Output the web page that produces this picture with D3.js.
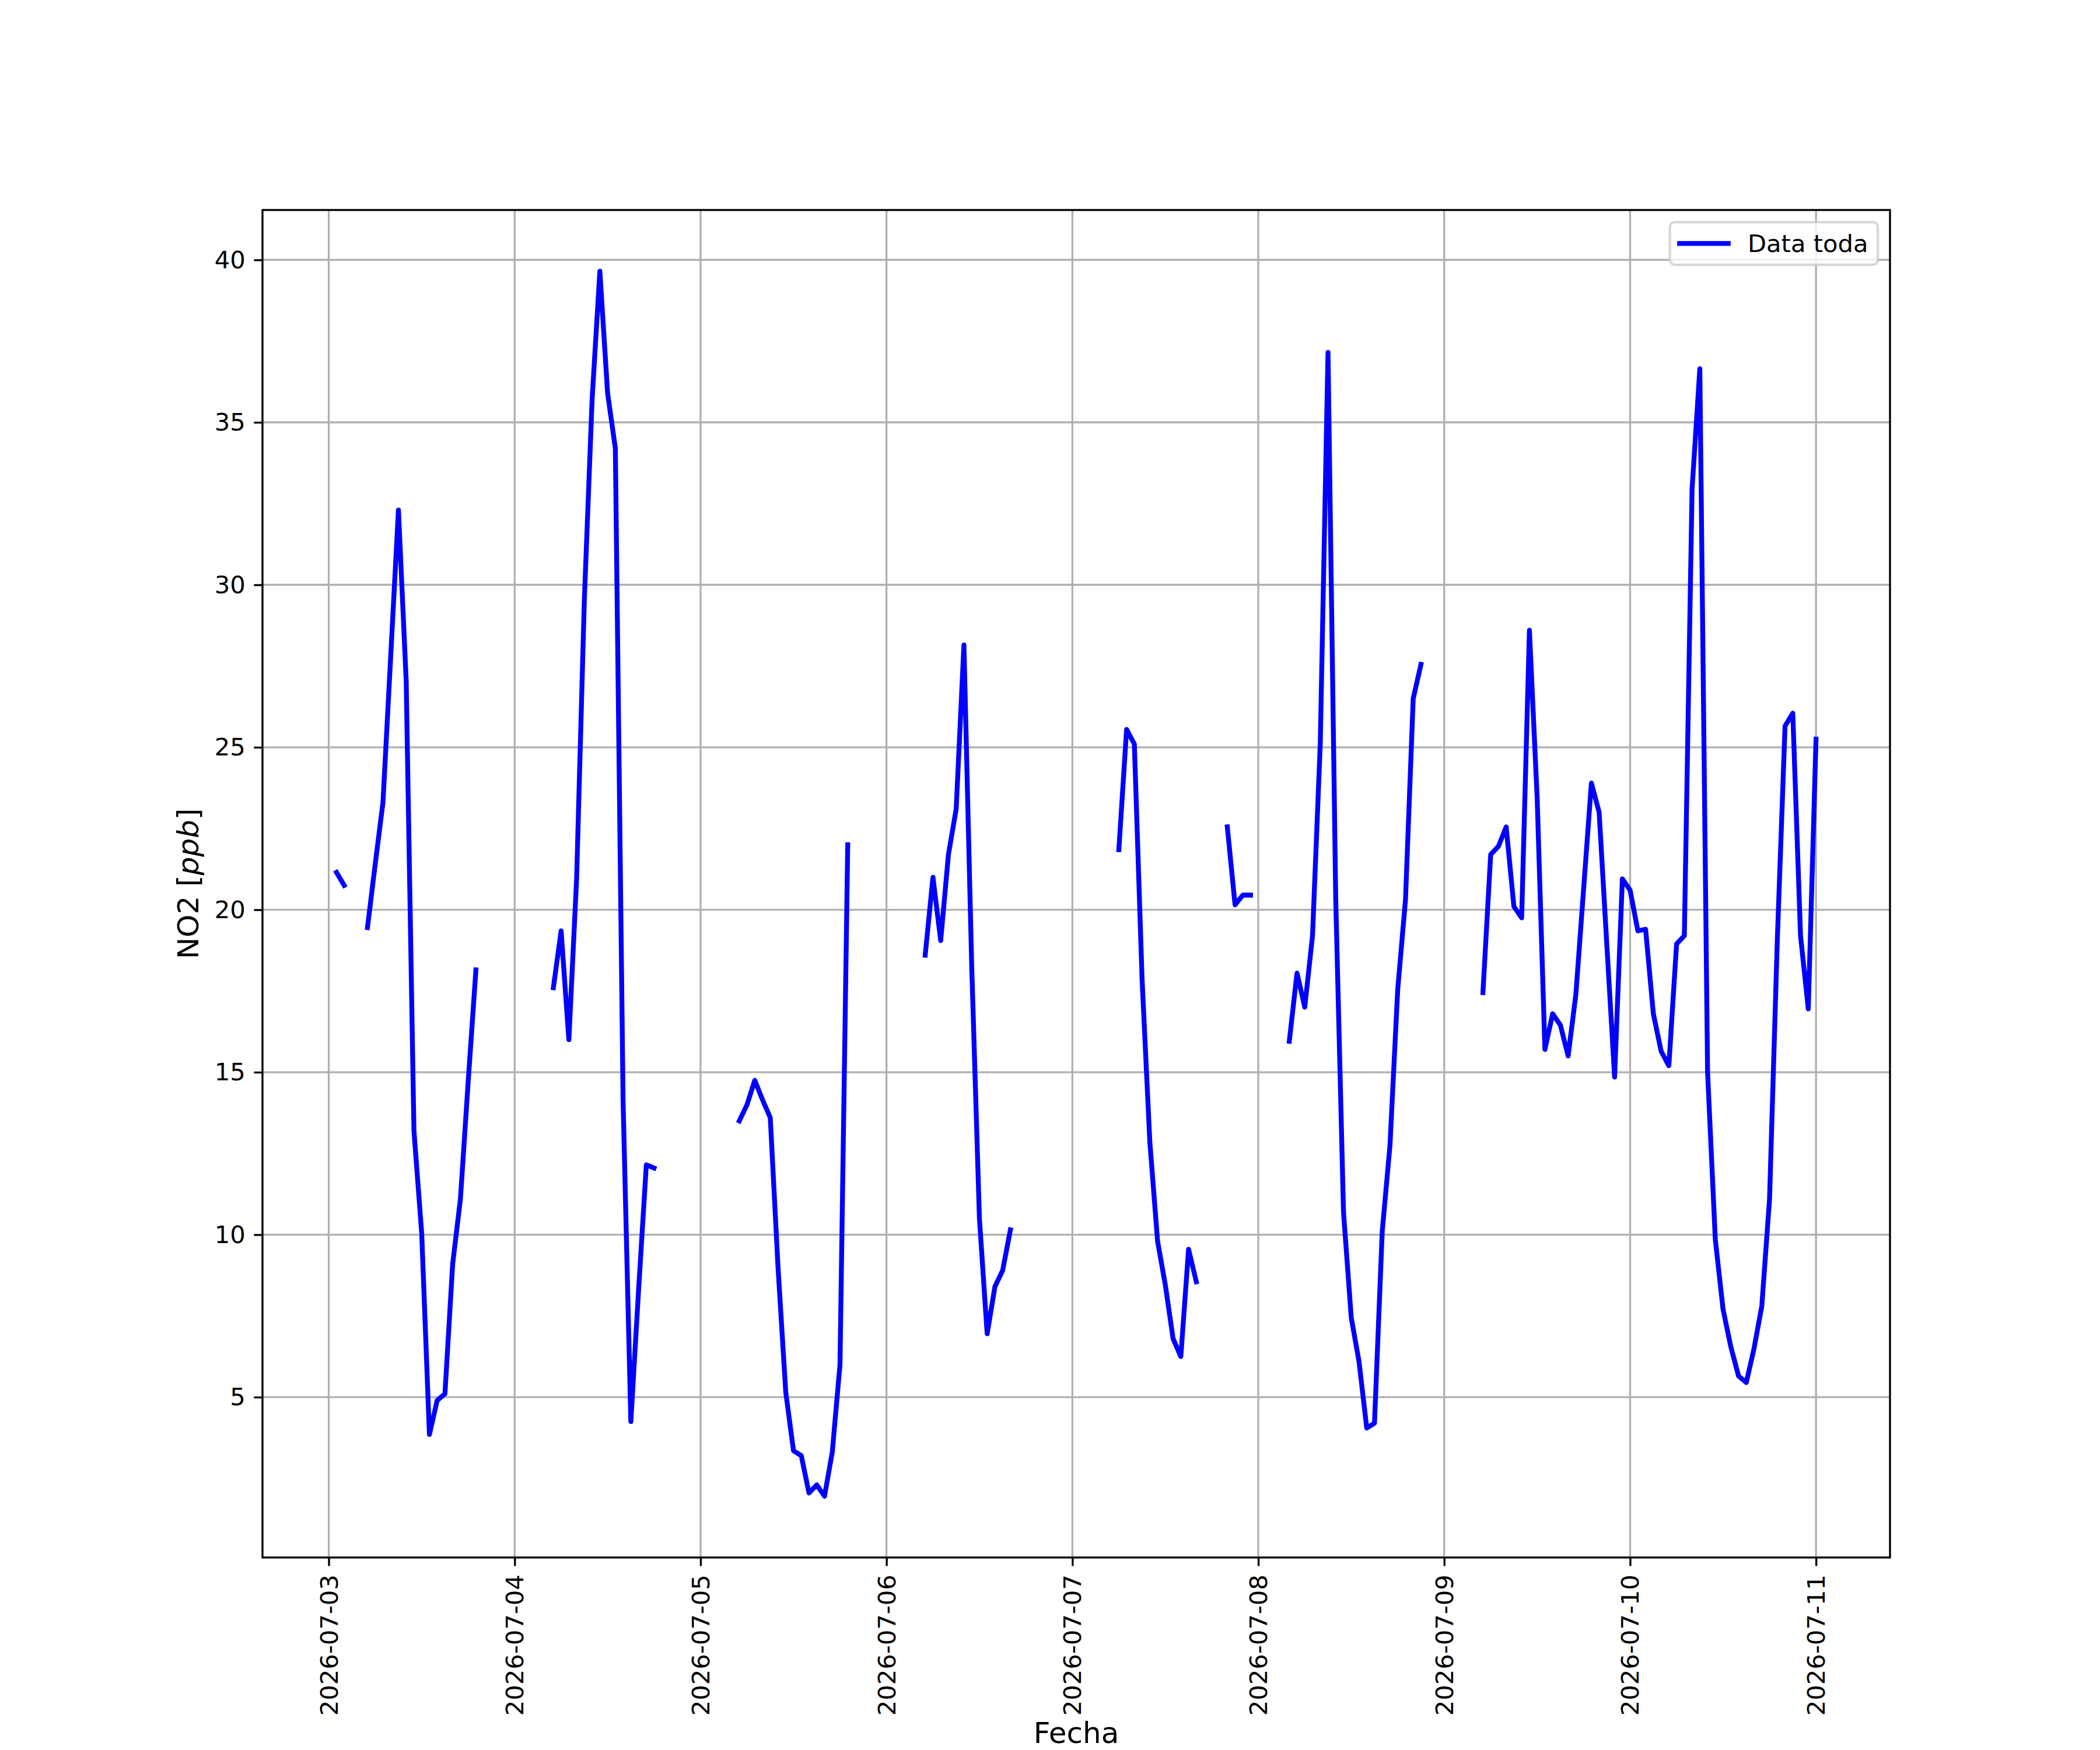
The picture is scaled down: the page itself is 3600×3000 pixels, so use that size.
<!DOCTYPE html>
<html>
<head>
<meta charset="utf-8">
<script src="https://cdn.jsdelivr.net/npm/d3@7"></script>
<style>
  html, body { margin: 0; padding: 0; background: #ffffff; }
  svg { display: block; }
  text { font-family: "DejaVu Sans", sans-serif; fill: #000; }
</style>
</head>
<body>
<svg id="chart" width="3600" height="3000"></svg>
<script>
// ---- Data: hourly NO2 [ppb], one array per day (hour 0..23), null = no data ----
const fechaInicio = "2026-07-03";
const day0703 = [null, 21.15, 20.75, null, null, 19.45, 21.4, 23.3, 27.8, 32.3, 27.05, 13.2, 10.05, 3.85, 4.9, 5.1, 9.1, 11.1, 14.7, 18.15, null, null, null, null];
const day0704 = [null, null, null, null, null, 17.6, 19.35, 16.0, 20.95, 29.55, 35.7, 39.65, 35.9, 34.2, 14.1, 4.25, 8.3, 12.15, 12.05, null, null, null, null, null];
const day0705 = [null, null, null, null, null, 13.5, 14.0, 14.75, 14.15, 13.6, 9.0, 5.15, 3.35, 3.2, 2.05, 2.3, 1.95, 3.3, 6.0, 22.0, null, null, null, null];
const day0706 = [null, null, null, null, null, 18.6, 21.0, 19.05, 21.7, 23.1, 28.15, 18.3, 10.5, 6.95, 8.4, 8.9, 10.15, null, null, null, null, null, null, null];
const day0707 = [null, null, null, null, null, null, 21.85, 25.55, 25.1, 17.85, 12.85, 9.8, 8.45, 6.8, 6.25, 9.55, 8.55, null, null, null, 22.55, 20.15, 20.45, 20.45];
const day0708 = [null, null, null, null, 15.95, 18.05, 17.0, 19.2, 25.1, 37.15, 20.3, 10.7, 7.45, 6.1, 4.05, 4.2, 10.1, 12.75, 17.55, 20.3, 26.5, 27.55, null, null];
const day0709 = [null, null, null, null, null, 17.45, 21.7, 21.95, 22.55, 20.1, 19.75, 28.6, 23.45, 15.7, 16.8, 16.45, 15.5, 17.4, 20.65, 23.9, 23.0, 18.9, 14.85, 20.95];
const day0710 = [20.6, 19.35, 19.4, 16.8, 15.65, 15.2, 18.95, 19.2, 32.95, 36.65, 15.0, 9.85, 7.7, 6.55, 5.65, 5.45, 6.5, 7.8, 11.1, 19.05, 25.65, 26.05, 19.2, 16.95];
const day0711 = [25.25];

const yTicks = [5, 10, 15, 20, 25, 30, 35, 40];
const xTickLabels = ["2026-07-03", "2026-07-04", "2026-07-05", "2026-07-06", "2026-07-07", "2026-07-08", "2026-07-09", "2026-07-10", "2026-07-11"];
const seriesName = "Data toda";
const xLabel = "Fecha";

// ---- Build records ----
const allDays = [day0703, day0704, day0705, day0706, day0707, day0708, day0709, day0710, day0711];
const parseDay = d3.utcParse("%Y-%m-%d");
const t0 = parseDay(fechaInicio);
const records = [];
allDays.forEach((arr, di) => {
  arr.forEach((v, h) => {
    records.push({ t: new Date(t0.getTime() + (di * 24 + h) * 3600e3), v: v });
  });
});
const valid = records.filter(d => d.v != null);

// ---- Layout (matplotlib-like, 12x10in @ 300dpi) ----
const W = 3600, H = 3000;
const L = 450, R = 3240, T = 360, B = 2670;
const PT = 300 / 72;
const fontPx = 10 * PT;
const labelPx = 12 * PT;

const svg = d3.select("#chart");
svg.append("rect").attr("width", W).attr("height", H).attr("fill", "#fff");

// Scales with 5% margins (matplotlib autoscale)
const [xmin, xmax] = d3.extent(valid, d => d.t);
const xspan = xmax - xmin;
const x = d3.scaleUtc()
  .domain([new Date(+xmin - 0.05 * xspan), new Date(+xmax + 0.05 * xspan)])
  .range([L, R]);
const [ymin, ymax] = d3.extent(valid, d => d.v);
const yspan = ymax - ymin;
const y = d3.scaleLinear()
  .domain([ymin - 0.05 * yspan, ymax + 0.05 * yspan])
  .range([B, T]);

const xTicks = xTickLabels.map(s => parseDay(s));

// Grid
const grid = svg.append("g");
grid.selectAll("line.gx").data(xTicks).enter().append("line")
  .attr("x1", d => x(d)).attr("x2", d => x(d)).attr("y1", T).attr("y2", B)
  .attr("stroke", "#b0b0b0").attr("stroke-width", 0.8 * PT);
grid.selectAll("line.gy").data(yTicks).enter().append("line")
  .attr("x1", L).attr("x2", R).attr("y1", d => y(d)).attr("y2", d => y(d))
  .attr("stroke", "#b0b0b0").attr("stroke-width", 0.8 * PT);

// Data line
const clipId = "clipAx";
svg.append("clipPath").attr("id", clipId).append("rect")
  .attr("x", L).attr("y", T).attr("width", R - L).attr("height", B - T);
const line = d3.line()
  .defined(d => d.v != null)
  .x(d => x(d.t))
  .y(d => y(d.v));
svg.append("path")
  .datum(records)
  .attr("clip-path", `url(#${clipId})`)
  .attr("d", line)
  .attr("fill", "none")
  .attr("stroke", "#0000ff")
  .attr("stroke-width", 2 * PT)
  .attr("stroke-linejoin", "round")
  .attr("stroke-linecap", "square");

// Axes via d3
const tickLen = 3.5 * PT, tickPad = 3.5 * PT;
const xAxis = d3.axisBottom(x).tickValues(xTicks).tickFormat(d3.utcFormat("%Y-%m-%d"))
  .tickSize(tickLen).tickPadding(tickPad);
const gx = svg.append("g").attr("transform", `translate(0,${B})`).call(xAxis);
gx.select(".domain").remove();
gx.selectAll(".tick line").attr("stroke", "#000").attr("stroke-width", 0.8 * PT);
gx.selectAll(".tick text")
  .attr("font-size", fontPx)
  .attr("font-family", "DejaVu Sans")
  .attr("fill", "#000")
  .attr("y", 0).attr("dy", null)
  .attr("text-anchor", "end")
  .attr("dominant-baseline", "central")
  .attr("transform", `translate(0,${tickLen + tickPad}) rotate(-90)`);

const yAxis = d3.axisLeft(y).tickValues(yTicks).tickFormat(d3.format("d"))
  .tickSize(tickLen).tickPadding(tickPad);
const gy = svg.append("g").attr("transform", `translate(${L},0)`).call(yAxis);
gy.select(".domain").remove();
gy.selectAll(".tick line").attr("stroke", "#000").attr("stroke-width", 0.8 * PT);
gy.selectAll(".tick text")
  .attr("font-size", fontPx)
  .attr("font-family", "DejaVu Sans")
  .attr("fill", "#000")
  .attr("dy", "0.33em");

// Spines
svg.append("rect")
  .attr("x", L).attr("y", T).attr("width", R - L).attr("height", B - T)
  .attr("fill", "none").attr("stroke", "#000").attr("stroke-width", 0.8 * PT);

// Axis labels
svg.append("text")
  .attr("x", (L + R) / 2).attr("y", 2988)
  .attr("text-anchor", "middle")
  .attr("font-size", labelPx)
  .text(xLabel);

const yl = svg.append("text")
  .attr("transform", `translate(340,${(T + B) / 2}) rotate(-90)`)
  .attr("text-anchor", "middle")
  .attr("font-size", labelPx);
yl.append("tspan").text("NO2 [");
yl.append("tspan").attr("font-style", "italic").text("ppb");
yl.append("tspan").text("]");

// Legend (upper right)
const em = fontPx;
const pad = 0.5 * em;          // borderaxespad
const borderpad = 0.4 * em;
const handleLen = 2.0 * em, handlePad = 0.8 * em;
const lg = svg.append("g");
const ltext = lg.append("text").attr("font-size", fontPx).text(seriesName);
const tw = ltext.node().getComputedTextLength();
const lw = borderpad + handleLen + handlePad + tw + borderpad;
const lh = 73;
const lx = R - pad - lw, ly = T + pad;
lg.insert("rect", "text")
  .attr("x", lx).attr("y", ly).attr("width", lw).attr("height", lh)
  .attr("rx", 0.2 * em).attr("ry", 0.2 * em)
  .attr("fill", "rgba(255,255,255,0.8)")
  .attr("stroke", "rgba(204,204,204,0.8)")
  .attr("stroke-width", 1.0 * PT);
const cy = ly + lh / 2;
lg.insert("line", "text")
  .attr("x1", lx + borderpad).attr("x2", lx + borderpad + handleLen)
  .attr("y1", cy).attr("y2", cy)
  .attr("stroke", "#0000ff").attr("stroke-width", 2 * PT)
  .attr("stroke-linecap", "square");
ltext.attr("x", lx + borderpad + handleLen + handlePad).attr("y", cy + 0.36 * em);
</script>
</body>
</html>
